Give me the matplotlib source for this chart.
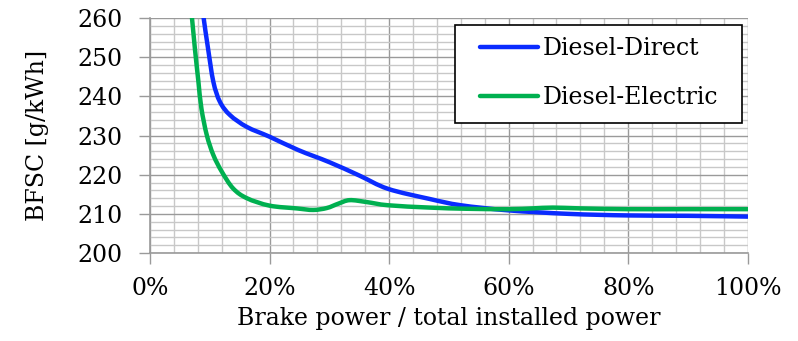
import numpy as np
import matplotlib.pyplot as plt
from matplotlib.path import Path
from matplotlib.patches import PathPatch, Rectangle
from matplotlib.lines import Line2D
from matplotlib.ticker import MultipleLocator, PercentFormatter

plt.rcParams['font.family'] = ['DejaVu Serif']

# load fraction (%) and BFSC (g/kWh)
direct_x = [8.4, 8.9, 9.7, 10.6, 11.7, 13.4, 16.2, 20.0, 24.8, 30.0, 35.0,
            39.8, 46.8, 52.0, 59.9, 70.0, 79.9, 90.0, 100.0]
direct_y = [267.0, 260.8, 252.3, 243.7, 238.6, 235.2, 232.2, 229.7, 226.3, 223.2, 219.8,
            216.4, 213.8, 212.2, 210.9, 210.0, 209.6, 209.5, 209.3]

electric_x = [6.5, 6.97, 7.5, 8.1, 8.6, 9.5, 10.6, 12.0, 13.9, 16.2, 20.0, 24.5, 27.3,
              29.6, 31.5, 33.4, 36.3, 39.8, 46.8, 53.0, 59.9, 64.0, 67.4, 72.0,
              79.9, 90.0, 100.0]
electric_y = [267.0, 260.8, 252.3, 243.7, 236.9, 230.1, 225.0, 220.8, 216.5, 214.0, 212.1, 211.4, 211.0,
              211.5, 212.6, 213.5, 213.0, 212.2, 211.6, 211.3, 211.2, 211.4, 211.6, 211.4,
              211.2, 211.2, 211.2]

BLUE = '#0A2BFF'
GREEN = '#00B050'


def smooth_path(xs, ys, tension=1/6):
    # Excel-style smoothed line: cubic Bezier segments through the points
    pts = np.column_stack([xs, ys])
    verts = [pts[0]]
    codes = [Path.MOVETO]
    n = len(pts)
    for i in range(n - 1):
        p0 = pts[i - 1] if i > 0 else pts[i]
        p1 = pts[i]
        p2 = pts[i + 1]
        p3 = pts[i + 2] if i + 2 < n else pts[i + 1]
        c1 = p1 + (p2 - p0) * tension
        c2 = p2 - (p3 - p1) * tension
        verts += [c1, c2, p2]
        codes += [Path.CURVE4] * 3
    return Path(verts, codes)


fig = plt.figure(figsize=(7.98, 3.41), dpi=100)
ax = fig.add_axes([0.188, 0.258, 0.749, 0.689])

for xs, ys, c in [(direct_x, direct_y, BLUE), (electric_x, electric_y, GREEN)]:
    ax.add_patch(PathPatch(smooth_path(xs, ys), facecolor='none', edgecolor=c,
                           lw=3.2, capstyle='round', joinstyle='round', zorder=3))

ax.set_xlim(0, 100)
ax.set_ylim(200, 260)
ax.xaxis.set_major_locator(MultipleLocator(20))
ax.xaxis.set_minor_locator(MultipleLocator(4))
ax.yaxis.set_major_locator(MultipleLocator(10))
ax.yaxis.set_minor_locator(MultipleLocator(2))
ax.xaxis.set_major_formatter(PercentFormatter(decimals=0))

ax.grid(True, which='minor', color='#C8C8C8', lw=1.0, zorder=0)
ax.grid(True, which='major', color='#9A9A9A', lw=1.0, zorder=1)
ax.set_axisbelow(True)

for s in ['top', 'right']:
    ax.spines[s].set_visible(False)
for s in ['left', 'bottom']:
    ax.spines[s].set_color('#9A9A9A')
    ax.spines[s].set_linewidth(1.2)

ax.tick_params(which='major', direction='out', length=8, width=1.0,
               color='#9A9A9A', labelsize=17)
ax.tick_params(axis='x', which='major', pad=9)
ax.tick_params(axis='y', which='major', pad=12)
ax.tick_params(which='minor', length=0)

ax.set_xlabel('Brake power / total installed power', fontsize=17, labelpad=5)
ax.set_ylabel('BFSC [g/kWh]', fontsize=17, labelpad=20)

# legend box drawn separately so its padding matches the original
ax.add_patch(Rectangle((0.510, 0.553), 0.480, 0.417, transform=ax.transAxes,
                       facecolor='white', edgecolor='black', lw=1.2, zorder=4))
handles = [Line2D([], [], color=BLUE, lw=3.2, solid_capstyle='round'),
           Line2D([], [], color=GREEN, lw=3.2, solid_capstyle='round')]
leg = ax.legend(handles, ['Diesel-Direct', 'Diesel-Electric'],
                loc='center left', bbox_to_anchor=(0.552, 0.766), fontsize=17,
                frameon=False, borderaxespad=0, borderpad=0,
                handlelength=2.46, handletextpad=0.2, labelspacing=1.12)
leg.set_zorder(5)

plt.savefig('out.png', dpi=100)
